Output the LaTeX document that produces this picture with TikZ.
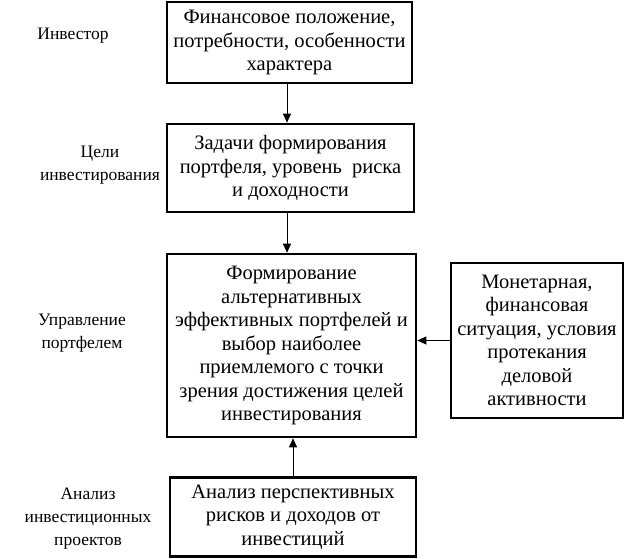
\documentclass[tikz,border=0pt]{standalone}
\usepackage{fontspec}
\setmainfont{Liberation Serif}
\usetikzlibrary{arrows.meta}
\begin{document}
\begin{tikzpicture}[x=1pt,y=-1pt,
  box/.style={draw,line width=2.6pt,rectangle,inner sep=0pt,align=center,
    font=\fontsize{20.5}{23.5}\selectfont},
  lab/.style={align=center,inner sep=0pt,font=\fontsize{17.5}{23}\selectfont},
  arr/.style={-{Triangle[length=9pt,width=8pt]},line width=0.9pt}]
\useasboundingbox (0,0) rectangle (624,559);
\coordinate (ax) at (287,0);
\node[box,minimum width=245,minimum height=81] (b1) at (289.5,42.5)
  {Финансовое положение,\\потребности, особенности\\характера};
\node[box,minimum width=247,minimum height=88] (b2) at (290.5,168)
  {Задачи формирования\\портфеля, уровень\ \ риска\\и доходности};
\node[box,minimum width=249,minimum height=183] (b3) at (291.5,345.5)
  {Формирование\\альтернативных\\эффективных портфелей и\\выбор наиболее\\приемлемого с точки\\зрения достижения целей\\инвестирования};
\node[box,minimum width=172,minimum height=155] (b4) at (537,340.5)
  {Монетарная,\\финансовая\\ситуация, условия\\протекания\\деловой\\активности};
\node[box,minimum width=246,minimum height=79] (b5) at (293,517)
  {Анализ перспективных\\рисков и доходов от\\инвестиций};
\node[lab] (l1) at (73,36) {Инвестор};
\node[lab] (l2) at (100,165) {Цели\\инвестирования};
\node[lab] (l3) at (82,333) {Управление\\портфелем};
\node[lab] (l4) at (88,519) {Анализ\\инвестиционных\\проектов};
\draw[arr] (b1.south -| ax) -- (b2.north -| ax);
\draw[arr] (b2.south -| ax) -- (b3.north -| ax);
\draw[arr] (b4.west) -- (b4.west -| b3.east);
\draw[arr] (b5.north) -- (b5.north |- b3.south);
\end{tikzpicture}
\end{document}
